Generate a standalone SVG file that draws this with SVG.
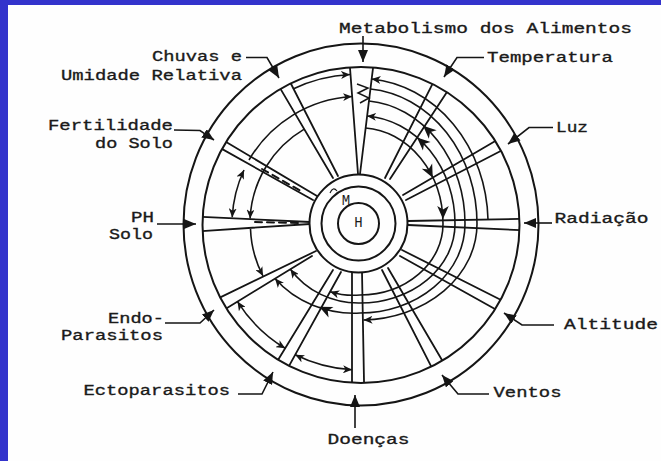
<svg xmlns="http://www.w3.org/2000/svg" width="661" height="461" viewBox="0 0 661 461">
<defs>
<style>
.ln{fill:none;stroke:#151515;stroke-width:1.8;stroke-linecap:round}
.ring{fill:none;stroke:#151515;stroke-width:2}
.arc{fill:none;stroke:#151515;stroke-width:1.6}
.lead{fill:none;stroke:#151515;stroke-width:1.6}
.dash{fill:none;stroke:#151515;stroke-width:2;stroke-dasharray:7 5}
.lbl{font-family:"Liberation Mono","Courier New",monospace;font-size:15.5px;fill:#1a1a1a;stroke:#1a1a1a;stroke-width:0.35}
.ctr{font-family:"Liberation Mono","Courier New",monospace;font-size:14px;fill:#1a1a1a}
</style>
<marker id="tri" markerWidth="12" markerHeight="10" refX="12" refY="5" orient="auto" markerUnits="userSpaceOnUse" viewBox="0 0 12 10"><path d="M0,0 L12,5 L0,10 Z" fill="#151515"/></marker>
<marker id="bar" markerWidth="9" markerHeight="8" refX="9" refY="4" orient="auto-start-reverse" markerUnits="userSpaceOnUse" viewBox="0 0 9 8"><path d="M0,0 L9,4 L0,8 L2.5,4 Z" fill="#151515"/></marker>
<path id="ah" d="M0,0 L-9,-4 L-6.5,0 L-9,4 Z" fill="#151515"/>
<clipPath id="clipIn"><ellipse cx="361" cy="225" rx="158.5" ry="158"/></clipPath>
</defs>

<rect x="0" y="0" width="661" height="461" fill="#3333cc"/>
<rect x="8" y="5" width="653" height="456" fill="#fefefe"/>

<g id="spokes" class="ln" clip-path="url(#clipIn)">
<path d="M358,174 L349.4,60 M360,174 L374,60"/>
<path d="M333,178 L275.5,80.4 M338,176 L287,76"/>
<path d="M317,196 L216.9,136.6 M313,200 L212.9,143.9"/>
<path d="M310,222 L195,216.6 M310,224 L195,231.5"/>
<path d="M316,251 L211.5,301.6 M312,256 L218.5,313.2"/>
<path d="M333,270 L272.5,369 M341,272 L283.8,375.4"/>
<path d="M352,272 L352,392 M362,272 L364.2,392"/>
<path d="M382,270 L435.9,375.6 M388,268 L447.4,369.2"/>
<path d="M402,250 L508,303.5 M400,256 L503,313.5"/>
<path d="M408,221 L528,218.8 M408,225 L528,230.5"/>
<path d="M403,195 L500.9,137.8 M406,200 L506,148.3"/>
<path d="M385,178 L436.7,75.7 M390,179 L452.7,83.3"/>
<path class="dash" d="M255,222 L298,223"/>
<path class="dash" d="M262,169 L300,190.5"/>
</g>

<g id="arcs" class="arc">
<path d="M293,89 A150,150 0 0,1 350,74.5" marker-end="url(#bar)"/>
<path d="M249,160 A128,128 0 0,1 352,96.5" marker-end="url(#bar)"/>
<path d="M244,170 A128,128 0 0,0 232.2,217.3" marker-start="url(#bar)" marker-end="url(#bar)"/>
<path d="M304.2,129.1 A110,110 0 0,0 250.1,218.5" marker-end="url(#bar)"/>
<path d="M250.5,229 A110,110 0 0,0 263,276" marker-end="url(#bar)"/>
<path d="M237.5,301.6 A145,145 0 0,0 285.2,348.3" marker-start="url(#bar)" marker-end="url(#bar)"/>
<path d="M295.2,354.8 A146,146 0 0,0 352,369.8" marker-start="url(#bar)" marker-end="url(#bar)"/>
<path d="M365.6,128 A83,96 0 0,1 443,224 A83,71 0 0,1 360,295 A74,71 0 0,1 330.1,291.7" marker-end="url(#bar)"/>
<path d="M367.1,116 A95,108 0 0,1 455,224 A95,79 0 0,1 360,303 A83,79 0 0,1 290.4,269.2" marker-start="url(#bar)" marker-end="url(#bar)"/>
<path d="M369,101 A105,123 0 0,1 465,224 A105,89 0 0,1 360,313 A100,90 0 0,1 275,278.6" marker-end="url(#bar)"/>
<path d="M370.4,89 A117,135 0 0,1 477,224 A117,96 0 0,1 363.5,320" marker-end="url(#bar)"/>
<path d="M371.6,79 A128,145 0 0,1 488,219.5" marker-start="url(#bar)"/>
<use href="#ah" transform="translate(431.9,176) rotate(63.5)"/>
<use href="#ah" transform="translate(443,217) rotate(90)"/>
<use href="#ah" transform="translate(418.5,138.9) rotate(221.6)"/>
<use href="#ah" transform="translate(424.6,127.1) rotate(222.5)"/>
<use href="#ah" transform="translate(321,307.5) rotate(205)"/>
<path d="M357,84 L368,88 L358,93 L369,98 L360,103" stroke-width="1.5"/>
</g>

<g id="hub">
<circle cx="358.5" cy="223.5" r="49" fill="#fefefe" stroke="#151515" stroke-width="2"/>
<circle class="ring" cx="358.5" cy="223.5" r="37"/>
<circle class="ring" cx="358.5" cy="223.5" r="20.5"/>
<text class="ctr" x="358.5" y="227" text-anchor="middle">H</text>
<text class="ctr" x="346" y="205" text-anchor="middle" font-size="13">M</text>
<path d="M330,193 Q333,186 337,191" fill="none" stroke="#151515" stroke-width="1.1"/>
</g>

<g id="rings">
<ellipse class="ring" cx="361" cy="224.5" rx="177.5" ry="181"/>
<ellipse class="ring" cx="361" cy="225" rx="158.5" ry="158"/>
</g>

<g id="connectors" class="lead">
<path d="M363,36 L363,62" marker-end="url(#tri)"/>
<path d="M246,57.5 L267,57.5 L279,78" marker-end="url(#tri)"/>
<path d="M484,57.5 L457,57.5 L444,77" marker-end="url(#tri)"/>
<path d="M553,127.5 L529,127.5 L508,144" marker-end="url(#tri)"/>
<path d="M552,223 L524,223" marker-end="url(#tri)"/>
<path d="M554,325 L522,325 L504,313" marker-end="url(#tri)"/>
<path d="M489,394 L458,394 L442,375" marker-end="url(#tri)"/>
<path d="M355,428 L355,395" marker-end="url(#tri)"/>
<path d="M238,394 L262,394 L273,372" marker-end="url(#tri)"/>
<path d="M165,323 L200,323 L214,310" marker-end="url(#tri)"/>
<path d="M157,224 L196,224" marker-end="url(#tri)"/>
<path d="M174,130 L200,130.5 L214,140" marker-end="url(#tri)"/>
</g>

<g id="label-metabolismo"><text class="lbl" x="339" y="32.5" textLength="293" lengthAdjust="spacingAndGlyphs">Metabolismo dos Alimentos</text></g>
<g id="label-chuvas"><text class="lbl" x="152" y="61" textLength="90" lengthAdjust="spacingAndGlyphs">Chuvas e</text><text class="lbl" x="61" y="80" textLength="181" lengthAdjust="spacingAndGlyphs">Umidade Relativa</text></g>
<g id="label-temperatura"><text class="lbl" x="487" y="62" textLength="126" lengthAdjust="spacingAndGlyphs">Temperatura</text></g>
<g id="label-luz"><text class="lbl" x="556" y="132" textLength="32" lengthAdjust="spacingAndGlyphs">Luz</text></g>
<g id="label-fertilidade"><text class="lbl" x="48" y="130" textLength="125" lengthAdjust="spacingAndGlyphs">Fertilidade</text><text class="lbl" x="95" y="148" textLength="78" lengthAdjust="spacingAndGlyphs">do Solo</text></g>
<g id="label-ph"><text class="lbl" x="131" y="222" textLength="23" lengthAdjust="spacingAndGlyphs">PH</text><text class="lbl" x="109" y="238.5" textLength="44" lengthAdjust="spacingAndGlyphs">Solo</text></g>
<g id="label-radiacao"><text class="lbl" x="554.5" y="223" textLength="94" lengthAdjust="spacingAndGlyphs">Radiação</text></g>
<g id="label-endo"><text class="lbl" x="108" y="323" textLength="56" lengthAdjust="spacingAndGlyphs">Endo-</text><text class="lbl" x="61" y="339.5" textLength="102" lengthAdjust="spacingAndGlyphs">Parasitos</text></g>
<g id="label-altitude"><text class="lbl" x="564" y="328.5" textLength="94" lengthAdjust="spacingAndGlyphs">Altitude</text></g>
<g id="label-ecto"><text class="lbl" x="83.5" y="395" textLength="146.5" lengthAdjust="spacingAndGlyphs">Ectoparasitos</text></g>
<g id="label-ventos"><text class="lbl" x="493.5" y="397" textLength="68" lengthAdjust="spacingAndGlyphs">Ventos</text></g>
<g id="label-doencas"><text class="lbl" x="327.5" y="443.5" textLength="82" lengthAdjust="spacingAndGlyphs">Doenças</text></g>
</svg>
